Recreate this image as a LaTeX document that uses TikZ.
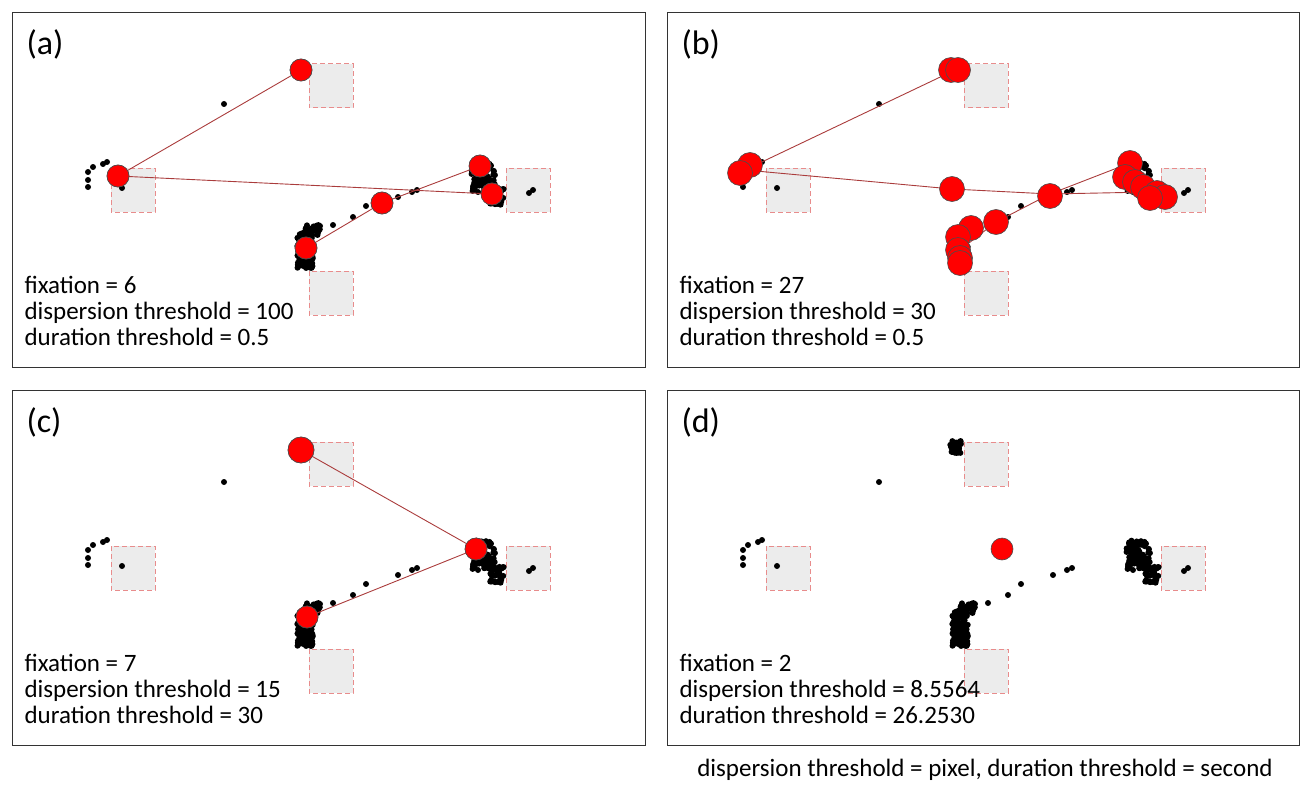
\documentclass[tikz,border=0pt]{standalone}
\usepackage{fontspec}
\setmainfont{Carlito}
\begin{document}
\begin{tikzpicture}[x=1pt,y=-1pt,
  frame/.style={draw=black!80,line width=0.8pt},
  aoi/.style={draw={rgb,255:red,232;green,140;blue,140},fill={rgb,255:red,236;green,236;blue,236},dash pattern=on 5pt off 3pt,line width=1pt},
  gaze/.style={fill=black,draw=none},
  fix/.style={circle,fill=red,draw=black!70,line width=0.6pt,minimum size=22pt,inner sep=0pt},
  sac/.style={draw={rgb,255:red,170;green,60;blue,60},line width=0.9pt},
  lbl/.style={font=\fontsize{34}{34}\selectfont,anchor=west},
  info/.style={font=\fontsize{25}{26}\selectfont,anchor=west}]
\useasboundingbox (0,0) rectangle (1309,797);
\newcommand\mybase[2]{%
 \begin{scope}[shift={(#1,#2)}]
  \foreach \a/\b in {309/64,111/168,506/168,309/271} \draw[aoi] (\a,\b) rectangle ++(44,44);
  \foreach \p in {(88,172),(93,167),(88,180),(88,187),(103,164),(107,162),(122,188),(224,104),
     (533,190),(529,193),(333,225),(320,226),(353,217),(366,206),(398,197),(412,192),(417,190),(478,192),(310,233)}
     \fill[gaze] \p circle (3);
  \pgfmathsetseed{7}
  \foreach \i in {1,...,40}{\pgfmathsetmacro\u{301+6*rand}\pgfmathsetmacro\v{69+6*rand}\fill[gaze] (\u,\v) circle (3);}
  \foreach \i in {1,...,110}{\pgfmathsetmacro\u{305+8*rand}\pgfmathsetmacro\v{250+18*rand}\fill[gaze] (\u,\v) circle (3);}
  \foreach \i in {1,...,30}{\pgfmathsetmacro\u{312+8*rand}\pgfmathsetmacro\v{230+5*rand}\fill[gaze] (\u,\v) circle (3);}
  \foreach \i in {1,...,100}{\pgfmathsetmacro\u{483+12*rand}\pgfmathsetmacro\v{177+15*rand}\fill[gaze] (\u,\v) circle (3);}
  \foreach \i in {1,...,35}{\pgfmathsetmacro\u{497+7*rand}\pgfmathsetmacro\v{196+9*rand}\fill[gaze] (\u,\v) circle (3);}
 \end{scope}}
% frames
\draw[frame] (12,12) rectangle (645,367);
\draw[frame] (667,12) rectangle (1299,367);
\draw[frame] (12,390) rectangle (645,745);
\draw[frame] (667,390) rectangle (1299,745);
\mybase{0}{0}\mybase{655}{0}\mybase{0}{378}\mybase{655}{378}
% (a)
\node[fix] (a1) at (301,70) {};
\node[fix] (a2) at (118,176) {};
\node[fix] (a3) at (492,194) {};
\node[fix] (a4) at (306,248) {};
\node[fix] (a5) at (382,203) {};
\node[fix] (a6) at (480,166) {};
\draw[sac] (a1.center) -- (a2.center) -- (a3.center);
\draw[sac] (a4.center) -- (a5.center) -- (a6.center);
\foreach \n in {a1,a2,a3,a4,a5,a6} \node[fix] at (\n) {};
% (b)
\coordinate (b0) at (955,70);
\coordinate (b1) at (745,170);
\coordinate (b4) at (1150,192);
\coordinate (b5) at (960,250);
\coordinate (b8) at (1130,163);
\draw[sac] (b0) -- (b1) -- (952,189) coordinate (b2) -- (1050,194) coordinate (b3) -- (b4);
\draw[sac] (b5) -- (996,222) coordinate (b6) -- (b3) -- (b8);
\foreach \p [count=\k] in {(951,70),(958,70),(750,165),(740,173),(952,189),(1050,196),(996,222),(971,228),(958,237),(958,250),(960,258),(960,263),(1130,163),(1125,177),(1135,182),(1143,187),(1157,193),(1165,197),(1150,198)}
  \node[fix,minimum size=25pt] (bf\k) at \p {};
% (c)
\node[fix,minimum size=26pt] (c1) at (301,450) {};
\node[fix] (c2) at (476,549) {};
\node[fix] (c3) at (307,617) {};
\draw[sac] (c1.center) -- (c2.center) -- (c3.center);
\foreach \n in {c2,c3} \node[fix] at (\n) {};
\node[fix,minimum size=26pt] at (c1) {};
% (d)
\node[fix] (d1) at (1002,549) {};
% labels
\node[lbl] (la) at (23,44) {(a)};
\node[lbl] (lb) at (678,44) {(b)};
\node[lbl] (lc) at (23,422) {(c)};
\node[lbl] (ld) at (678,422) {(d)};
\node[info,align=left] (ta) at (21,311) {fixation = 6\\dispersion threshold = 100\\duration threshold = 0.5};
\node[info,align=left] (tb) at (676,311) {fixation = 27\\dispersion threshold = 30\\duration threshold = 0.5};
\node[info,align=left] (tc) at (21,689) {fixation = 7\\dispersion threshold = 15\\duration threshold = 30};
\node[info,align=left] (td) at (676,689) {fixation = 2\\dispersion threshold = 8.5564\\duration threshold = 26.2530};
\node[font=\fontsize{25}{26}\selectfont] (cap) at (985,770) {dispersion threshold = pixel, duration threshold = second};
\end{tikzpicture}
\end{document}
